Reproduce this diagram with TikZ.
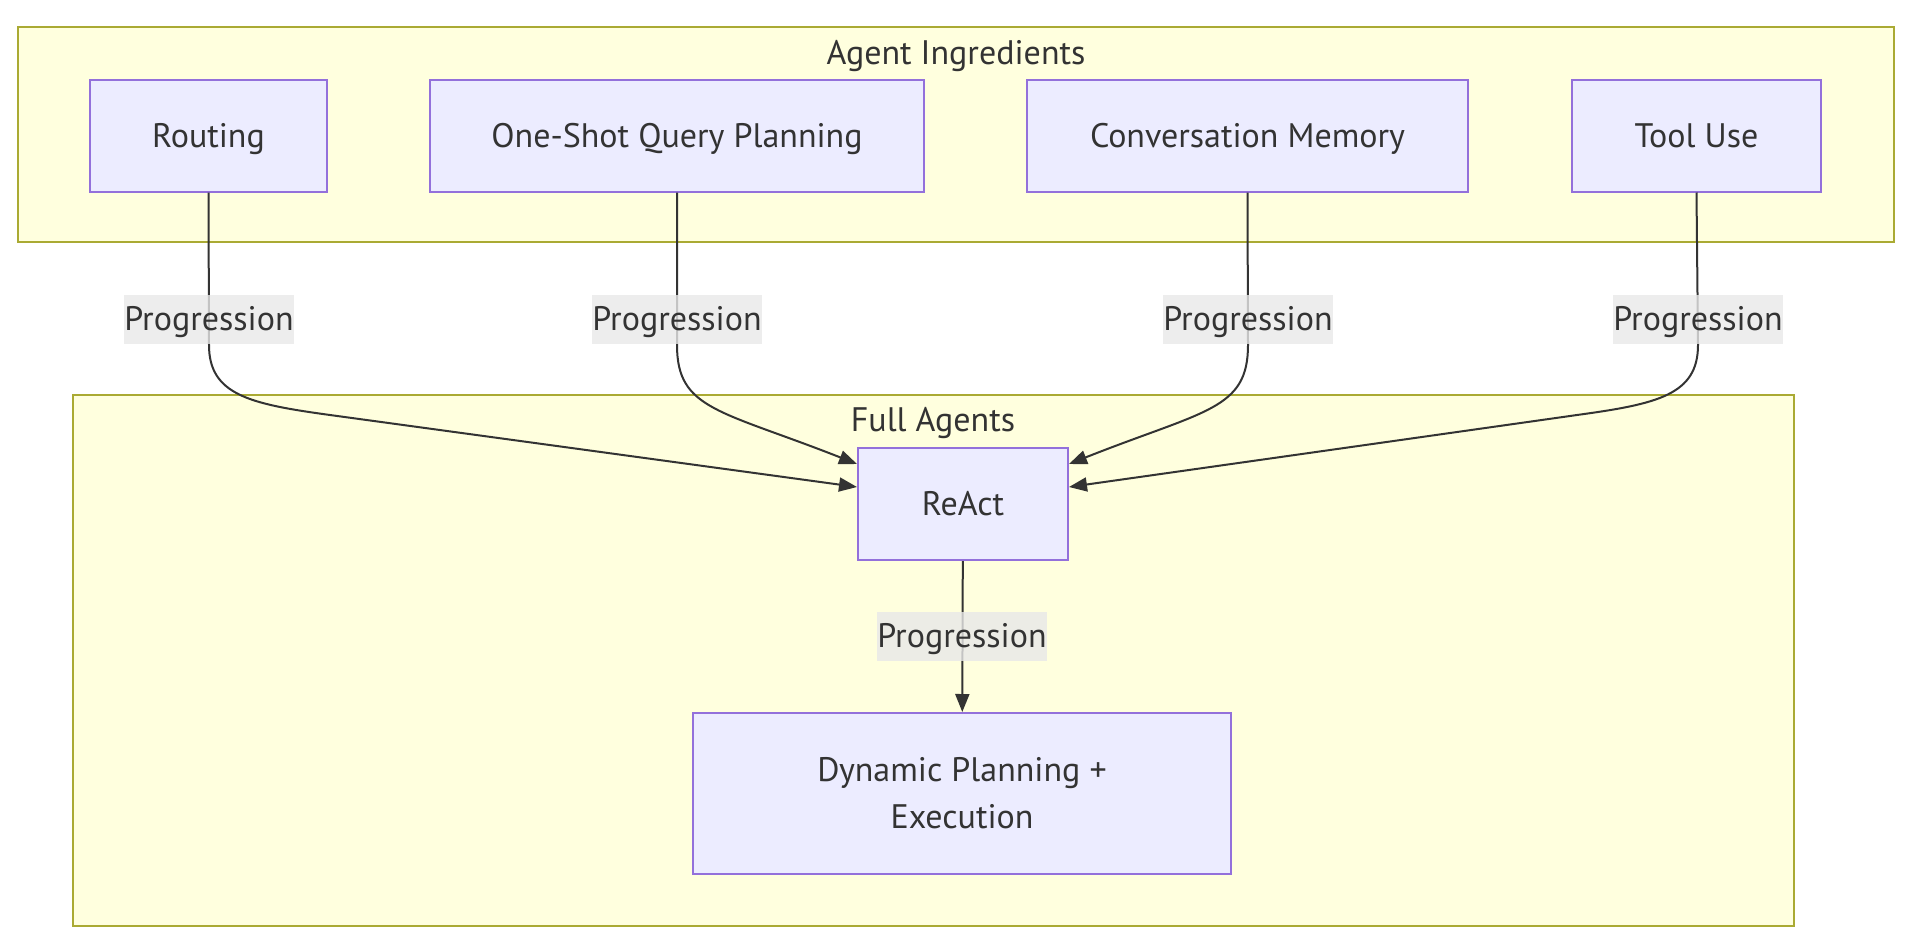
\documentclass[tikz,border=0pt]{standalone}
\usepackage{fontspec}
\setmainfont{PT Sans}
\usetikzlibrary{arrows.meta}
\definecolor{clfill}{HTML}{FFFFDE}
\definecolor{cldraw}{HTML}{AAAA33}
\definecolor{bxfill}{HTML}{ECECFF}
\definecolor{bxdraw}{HTML}{9370DB}
\definecolor{ink}{HTML}{333333}
\definecolor{lblfill}{HTML}{E8E8E8}
\tikzset{
  cluster/.style={draw=cldraw,fill=clfill,line width=1pt},
  box/.style={draw=bxdraw,fill=bxfill,line width=1pt,minimum height=56pt,inner sep=0pt},
  oneline/.style={text height=11.9pt,text depth=0pt},
  lbl/.style={fill=lblfill,fill opacity=0.8,text opacity=1,inner xsep=0pt,minimum height=24.5pt,oneline},
  flow/.style={draw=ink,line width=1pt,-{Triangle[length=9pt,width=7pt]}}
}
\begin{document}
\begin{tikzpicture}[x=0.5pt,y=-0.5pt,every node/.style={font=\fontsize{17}{23.5}\selectfont,text=ink}]

\useasboundingbox (0,0) rectangle (1918,948);

%clusters
\draw[cluster] (18,27) rectangle (1894,242);
\node[oneline] (ingrtitle) at (956,53) {Agent Ingredients};
\draw[cluster] (73,395) rectangle (1794,926);
\node[oneline] (fulltitle) at (933,420) {Full Agents};

%ingredients
\node[box,oneline,minimum width=118.5pt] (routing) at (208.5,135.5) {Routing};
\node[box,oneline,minimum width=247pt] (oneshot) at (677,135.5) {One-Shot Query Planning};
\node[box,oneline,minimum width=220.5pt] (convmem) at (1247.5,135.5) {Conversation Memory};
\node[box,oneline,minimum width=124.5pt] (tooluse) at (1696.5,135.5) {Tool Use};

%agents
\node[box,oneline,minimum width=105pt] (react) at (963,504) {ReAct};
\node[box,align=center,minimum width=269pt,minimum height=80.5pt] (dynamic) at (962,793.5) {Dynamic Planning +\\Execution};

%edges
\draw[flow] (routing.south) -- (209,345) .. controls (209,395) and (250,404) .. (330,415) -- ([yshift=8.5pt]react.west);
\draw[flow] (oneshot.south) -- (677,345) .. controls (677,410) and (720,410) .. ([yshift=20pt]react.west);
\draw[flow] (convmem.south) -- (1248,345) .. controls (1248,410) and (1205,410) .. ([yshift=20pt]react.east);
\draw[flow] (tooluse.south) -- (1698,345) .. controls (1698,395) and (1657,404) .. (1577,415) -- ([yshift=8.5pt]react.east);
\draw[flow] (react) -- (dynamic);

%labels
\node[lbl] (lbla) at (209,319) {Progression};
\node[lbl] (lblb) at (677,319) {Progression};
\node[lbl] (lblc) at (1248,319) {Progression};
\node[lbl] (lbld) at (1698,319) {Progression};
\node[lbl] (lble) at (962,636) {Progression};
\end{tikzpicture}
\end{document}
